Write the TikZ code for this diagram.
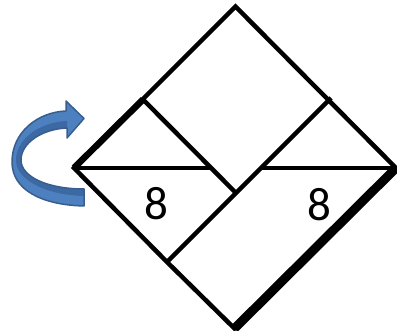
\documentclass[tikz,border=0pt]{standalone}
\usepackage{fontspec}
\setmainfont{Carlito}
\definecolor{arrowfill}{HTML}{4C80BF}
\definecolor{arrowdark}{HTML}{3C69A3}
\definecolor{arrowedge}{HTML}{395E8E}
\begin{document}
\begin{tikzpicture}[x=1pt,y=-1pt,
  edge/.style={line width=4.5pt,line join=miter,line cap=butt},
  thinedge/.style={line width=3.8pt,line cap=butt},
  thickedge/.style={line width=6.5pt,line cap=butt},
  heavyedge/.style={line width=9pt,line cap=butt},
  digit/.style={inner sep=0pt,font=\fontsize{47}{50}\selectfont}]
\useasboundingbox (0,0) rectangle (397,331);
\clip (0,0) rectangle (397,331);
% corner points
\coordinate (T) at (235.5,6.5);
\coordinate (L) at (74,168);
\coordinate (R) at (396,168);
\coordinate (B) at (234.5,328.5);
\coordinate (NL) at (143,99.5);
\coordinate (NR) at (331,98);
\coordinate (C) at (236,193);
\coordinate (D) at (167,262);
\coordinate (HL) at (211,168);
\coordinate (HR) at (261,168);
% outline
\draw[edge] (L) -- (T) -- (R) -- (B) -- (D) -- cycle;
\draw[thickedge] (L) -- (NL);
\draw[heavyedge] (R) -- (B);
% inner lines
\draw[edge] (NL) -- (C);
\draw[edge] (NR) -- (D);
\draw[thinedge] (L) -- (HL);
\draw[thinedge] (HR) -- (R);
% labels
\node[digit] (n1) at (156,204) {8};
\node[digit] (n2) at (319,205) {8};
% curved arrow
\fill[arrowfill]
 (84,206) .. controls (42,205) and (12,190) .. (12,162)
 .. controls (12,132) and (38,112) .. (66,111)
 -- (66,101) -- (84,118.5) -- (67,138) -- (67,128)
 .. controls (42,129) and (21,143) .. (21,160)
 .. controls (21,177) and (48,189) .. (84,189) -- cycle;
\fill[arrowdark]
 (67,121) .. controls (40,122) and (16,139) .. (16,160)
 .. controls (16,180) and (46,195) .. (84,196)
 -- (84,189) .. controls (48,189) and (21,177) .. (21,160)
 .. controls (21,143) and (42,129) .. (67,128) -- cycle;
\draw[arrowedge,line width=1.5pt,line join=round]
 (84,206) .. controls (42,205) and (12,190) .. (12,162)
 .. controls (12,132) and (38,112) .. (66,111)
 -- (66,101) -- (84,118.5) -- (67,138) -- (67,128)
 .. controls (42,129) and (21,143) .. (21,160)
 .. controls (21,177) and (48,189) .. (84,189) -- cycle;
\end{tikzpicture}
\end{document}
